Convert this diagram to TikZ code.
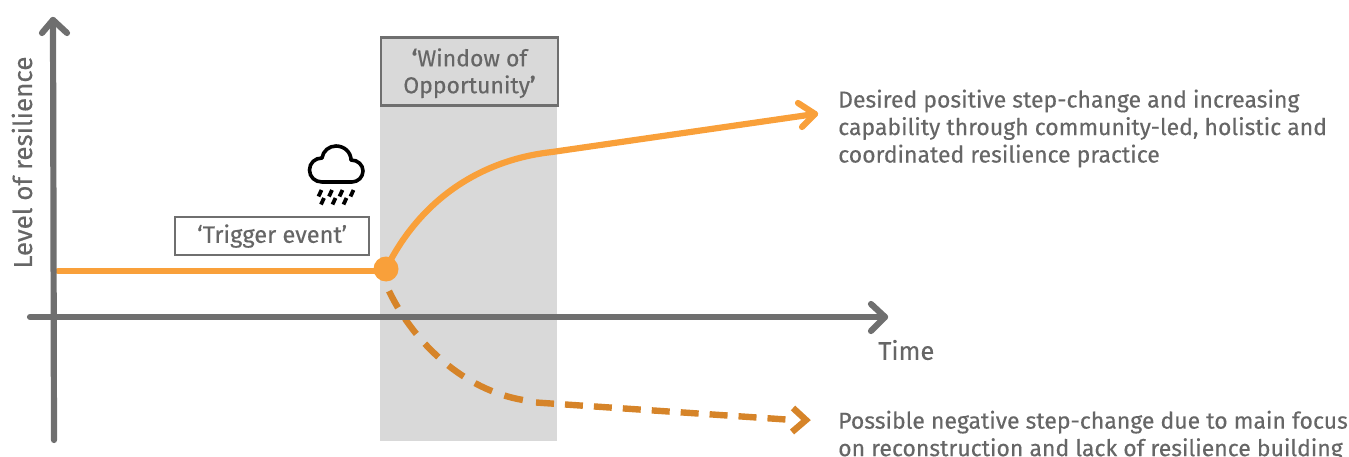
\documentclass[tikz,border=0pt]{standalone}
\usepackage{fontspec}
\setmainfont{Fira Sans}
\newfontfamily\medfont[FakeBold=0.3]{Fira Sans}
\definecolor{axisgrey}{HTML}{6F6F6F}
\definecolor{txtgrey}{HTML}{666666}
\definecolor{winfill}{HTML}{D9D9D9}
\definecolor{orangeline}{HTML}{F9A03A}
\definecolor{darkorange}{HTML}{D68429}
\tikzset{
 axisline/.style={draw=axisgrey,line width=6.2pt,line cap=round,line join=round},
 upline/.style={draw=orangeline,line width=6.2pt,line cap=round,line join=round},
 downcurve/.style={draw=darkorange,line width=6.4pt,dash pattern=on 19pt off 13pt},
 downstraight/.style={draw=darkorange,line width=6.4pt,dash pattern=on 18pt off 11pt},
 tiphead/.style={draw=darkorange,line width=6.4pt,line join=miter},
 lab/.style={text=txtgrey,font=\medfont\fontsize{23}{27.5}\selectfont,align=left,inner sep=0pt},
 boxlab/.style={text=txtgrey,font=\medfont\fontsize{23}{27}\selectfont,align=center},
 rain/.style={draw=black,line width=3.8pt}
}
\begin{document}
\begin{tikzpicture}[x=1pt,y=-1pt]
\useasboundingbox (0,0) rectangle (1349,457);
\fill[winfill] (380,105) rectangle (557,441);
\node[draw=axisgrey,fill=winfill,line width=2.4pt,minimum width=176.5pt,minimum height=68pt,inner sep=0pt,anchor=north west,boxlab] (win) at (380,36.5) {\rule{0pt}{21pt}{\bfseries ‘}Window of\\Opportunity{\bfseries ’}};
\node[draw=axisgrey,fill=white,line width=2.2pt,minimum width=194pt,minimum height=38pt,inner sep=0pt,anchor=north west,boxlab,font=\medfont\fontsize{23.6}{27}\selectfont] (trig) at (174,216) {‘Trigger event’};
% lines
\node[circle,fill=orangeline,minimum size=25pt,inner sep=0pt] (dot) at (386,269) {};
\coordinate (start) at (58,271);
\coordinate (flatend) at (386,271);
\coordinate (upend) at (815,114);
\coordinate (upmid) at (552,152);
\coordinate (dnstart) at (389,291);
\coordinate (dncurveend) at (523,400);
\coordinate (dnmid) at (536,402.5);
\coordinate (dnlast) at (786,419.5);
\coordinate (dntip) at (806,420);
\draw[upline] (start) -- (flatend);
\draw[upline] (dot.center) .. controls (420,200) and (480,160) .. (upmid) -- (upend);
\draw[upline] (798,103) -- (upend) -- (802,127);
\draw[downcurve] (dnstart) .. controls (415,345) and (465,390) .. (dncurveend);
\draw[downstraight] (dnmid) -- (dnlast);
\draw[tiphead] (793,408) -- (dntip) -- (792,432);
% axes
\coordinate (ytop) at (53,20);
\coordinate (ybot) at (54,440);
\coordinate (xl) at (30,317);
\coordinate (xr) at (885,317);
\draw[axisline] (ybot) -- (ytop);
\draw[axisline] (42,33) -- (ytop) -- (67,33);
\draw[axisline] (xl) -- (xr);
\draw[axisline] (871,304) -- (xr) -- (871,331);
% cloud
\draw[black,line width=3.6pt,line join=round,line cap=round]
  (322,182) .. controls (315,182) and (309.5,177) .. (309.5,170)
  .. controls (309.5,163) and (315,158) .. (322,158)
  .. controls (323,151) and (329,146) .. (336,146)
  .. controls (344,146) and (351,152) .. (351,160)
  .. controls (358,160) and (363,165) .. (363,171)
  .. controls (363,177) and (358,182) .. (352,182) -- cycle;
\foreach \x in {320,330.5,341,352}{
  \draw[rain] (\x+1.5,190) -- (\x-1.5,196.5);
}
\foreach \x in {322.5,334,345}{
  \draw[rain] (\x+1.5,198) -- (\x-1.5,204.5);
}
% labels
\node[lab,anchor=west] (up) at (838,128.5) {Desired positive step-change and increasing\\capability through community-led, holistic and\\coordinated resilience practice};
\node[lab,anchor=north west] (down) at (838,410.5) {Possible negative step-change due to main focus\\on reconstruction and lack of resilience building};
\node[lab,anchor=west,font=\medfont\fontsize{25.5}{27}\selectfont] (time) at (878,350) {Time};
\node[lab,anchor=center,rotate=90,font=\medfont\fontsize{26}{27}\selectfont] (yl) at (22,162.5) {Level of resilience};
\end{tikzpicture}
\end{document}
